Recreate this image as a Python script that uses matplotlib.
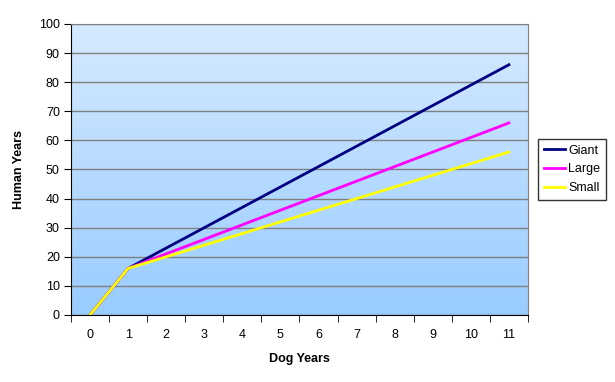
import numpy as np
import matplotlib
matplotlib.use("Agg")
import matplotlib.pyplot as plt
from matplotlib.colors import LinearSegmentedColormap

plt.rcParams['font.family'] = ['Liberation Sans', 'DejaVu Sans']

# Dados
dog_years = [0, 1, 2, 3, 4, 5, 6, 7, 8, 9, 10, 11]
giant = [0, 16, 23, 30, 37, 44, 51, 58, 65, 72, 79, 86]
large = [0, 16, 21, 26, 31, 36, 41, 46, 51, 56, 61, 66]
small = [0, 16, 20, 24, 28, 32, 36, 40, 44, 48, 52, 56]

fig = plt.figure(figsize=(6.15, 3.82), dpi=100)
ax = fig.add_axes([0.1154, 0.1754, 0.7431, 0.7618])

# Fundo em degradê
cmap = LinearSegmentedColormap.from_list("bg", ["#99CCFF", "#D6EAFF"])
grad = np.linspace(0, 1, 256).reshape(-1, 1)
ax.imshow(grad, aspect='auto', cmap=cmap, origin='lower',
          extent=[0, 1, 0, 1], transform=ax.transAxes, zorder=0)

x = np.arange(len(dog_years))
ax.plot(x, giant, color='#000080', lw=2, label='Giant', zorder=3)
ax.plot(x, large, color='#FF00FF', lw=2, label='Large', zorder=3)
ax.plot(x, small, color='#FFFF00', lw=2, label='Small', zorder=3)

ax.set_xlim(-0.5, len(dog_years) - 0.5)
ax.set_ylim(0, 100)
ax.set_yticks(range(0, 101, 10))
ax.set_xticks(x)
ax.set_xticklabels([str(d) for d in dog_years])
ax.set_xticks(np.arange(-0.5, len(dog_years), 1), minor=True)
ax.tick_params(axis='x', which='major', length=0, pad=10, labelsize=9)
ax.tick_params(axis='x', which='minor', length=5, direction='out')
ax.tick_params(axis='y', length=5, direction='out', labelsize=9, pad=3)

ax.grid(axis='y', color='#808080', lw=1, zorder=1)
for s in ['top', 'right']:
    ax.spines[s].set_color('#808080')
for s in ['left', 'bottom']:
    ax.spines[s].set_color('black')

ax.set_xlabel('Dog Years', fontsize=9, fontweight='bold', labelpad=9)
ax.set_ylabel('Human Years', fontsize=9, fontweight='bold', labelpad=10)

leg = ax.legend(loc='center left', bbox_to_anchor=(1.022, 0.5), fontsize=9,
                frameon=True, fancybox=False, edgecolor='black',
                handlelength=1.7, handletextpad=0.25, borderpad=0.45,
                labelspacing=0.55, borderaxespad=0)
leg.get_frame().set_linewidth(1)

fig.savefig('out.png', dpi=100)
